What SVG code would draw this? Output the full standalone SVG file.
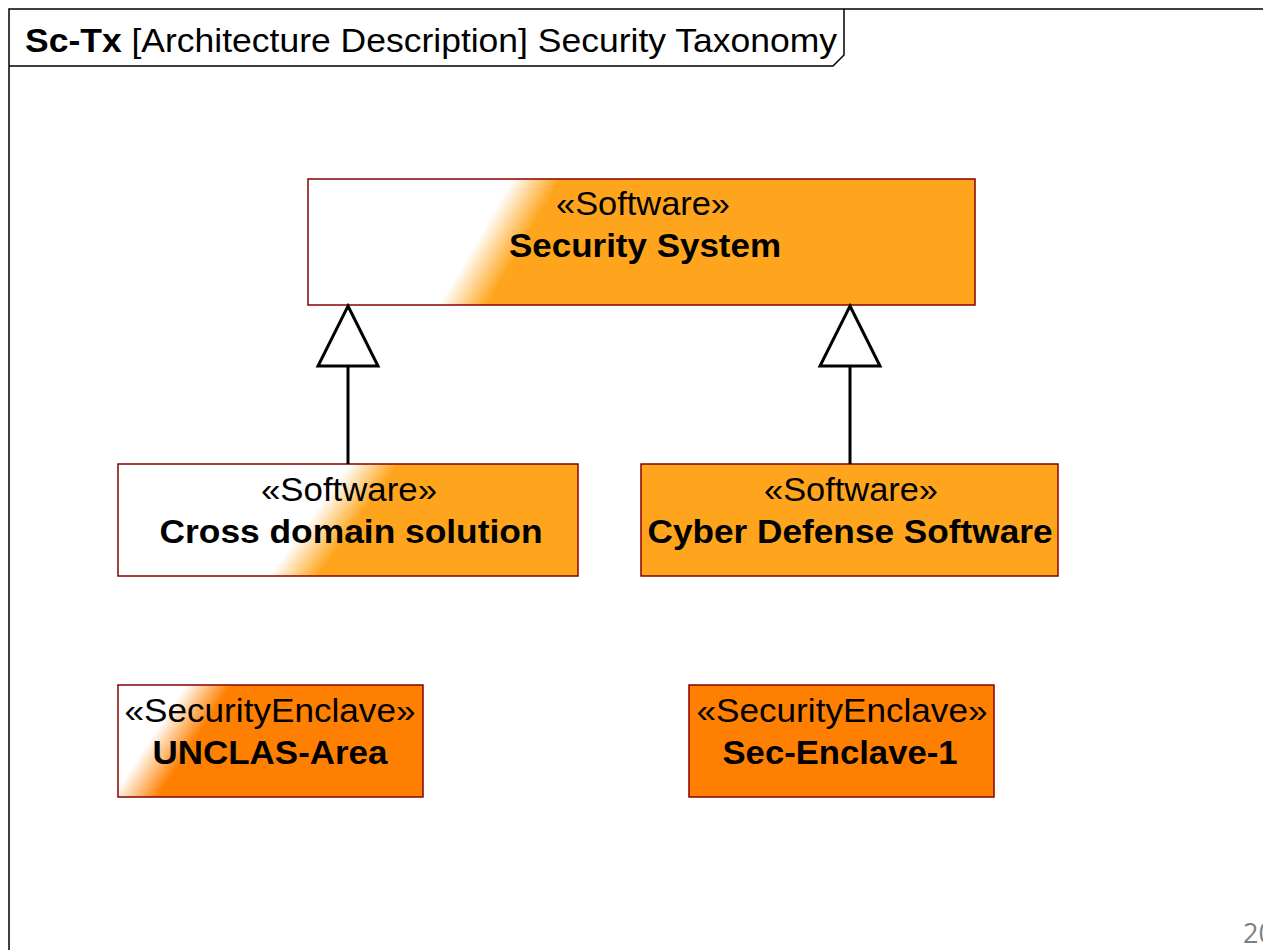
<svg xmlns="http://www.w3.org/2000/svg" width="1263" height="950" viewBox="0 0 1263 950">
<style>
.box{stroke:#8B0000;stroke-width:1.5}
.st{font-family:"Liberation Sans",Arial,sans-serif;font-size:34px;fill:#000}
.nm{font-family:"Liberation Sans",Arial,sans-serif;font-size:34px;font-weight:bold;fill:#000}
.conn{stroke:#000;stroke-width:3;fill:none}
.tri{stroke:#000;stroke-width:3;fill:#fff;stroke-linejoin:miter}
</style>
<defs>
<linearGradient id="g1" gradientUnits="userSpaceOnUse" x1="482" y1="231" x2="518" y2="252">
<stop offset="0" stop-color="#fff"/><stop offset="1" stop-color="#FFA51D"/></linearGradient>
<linearGradient id="g2" gradientUnits="userSpaceOnUse" x1="318" y1="508" x2="350" y2="531">
<stop offset="0" stop-color="#fff"/><stop offset="1" stop-color="#FFA51D"/></linearGradient>
<linearGradient id="g3" gradientUnits="userSpaceOnUse" x1="156" y1="730" x2="188" y2="751">
<stop offset="0" stop-color="#fff"/><stop offset="1" stop-color="#FF8000"/></linearGradient>
</defs>
<rect width="1263" height="950" fill="#fff"/>
<g id="frame">
<path d="M9,950 V9 H1263" fill="none" stroke="#000" stroke-width="1.5"/>
<path d="M9,66 H833 L844,55 V9" fill="none" stroke="#000" stroke-width="1.5"/>
<text x="25" y="52" textLength="812" lengthAdjust="spacingAndGlyphs" class="st" font-size="33"><tspan font-weight="bold">Sc-Tx</tspan> [Architecture Description] Security Taxonomy</text>
</g>
<g id="security-system">
<rect x="308" y="179" width="667" height="126" fill="url(#g1)" class="box"/>
<text x="643" y="215" text-anchor="middle" textLength="174" lengthAdjust="spacingAndGlyphs" class="st">«Software»</text>
<text x="645" y="257" text-anchor="middle" textLength="272" lengthAdjust="spacingAndGlyphs" class="nm">Security System</text>
</g>
<g id="cross-domain-solution">
<rect x="118" y="464" width="460" height="112" fill="url(#g2)" class="box"/>
<text x="349" y="501" text-anchor="middle" textLength="176" lengthAdjust="spacingAndGlyphs" class="st">«Software»</text>
<text x="351" y="543" text-anchor="middle" textLength="383" lengthAdjust="spacingAndGlyphs" class="nm">Cross domain solution</text>
</g>
<g id="cyber-defense-software">
<rect x="641" y="464" width="417" height="112" fill="#FFA51D" class="box"/>
<text x="851" y="501" text-anchor="middle" textLength="174" lengthAdjust="spacingAndGlyphs" class="st">«Software»</text>
<text x="850" y="543" text-anchor="middle" textLength="405" lengthAdjust="spacingAndGlyphs" class="nm">Cyber Defense Software</text>
</g>
<g id="unclas-area">
<rect x="118" y="685" width="305" height="112" fill="url(#g3)" class="box"/>
<text x="270" y="722" text-anchor="middle" textLength="291" lengthAdjust="spacingAndGlyphs" class="st">«SecurityEnclave»</text>
<text x="270" y="764" text-anchor="middle" textLength="235" lengthAdjust="spacingAndGlyphs" class="nm">UNCLAS-Area</text>
</g>
<g id="sec-enclave-1">
<rect x="689" y="685" width="305" height="112" fill="#FF8000" class="box"/>
<text x="842" y="722" text-anchor="middle" textLength="291" lengthAdjust="spacingAndGlyphs" class="st">«SecurityEnclave»</text>
<text x="840" y="764" text-anchor="middle" textLength="235" lengthAdjust="spacingAndGlyphs" class="nm">Sec-Enclave-1</text>
</g>
<g id="connectors">
<line x1="348" y1="464" x2="348" y2="366" class="conn"/>
<path d="M348,306 L378,366 L318,366 Z" class="tri"/>
<line x1="850" y1="464" x2="850" y2="366" class="conn"/>
<path d="M850,306 L880,366 L820,366 Z" class="tri"/>
</g>
<text x="1243" y="943" font-family="'Open Sans','DejaVu Sans',sans-serif" font-size="27" fill="#7f7f7f">20</text>
</svg>
